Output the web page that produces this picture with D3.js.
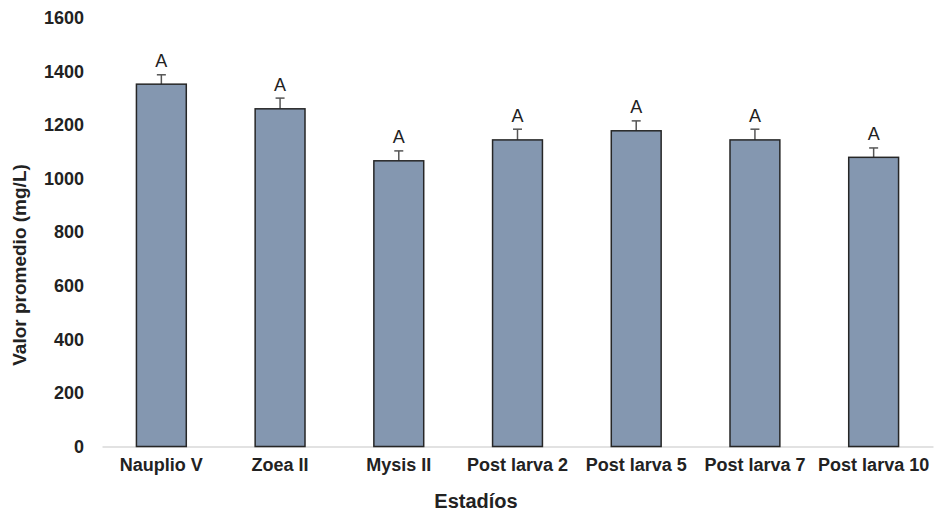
<!DOCTYPE html>
<html><head><meta charset="utf-8">
<script src="https://cdn.jsdelivr.net/npm/d3@7"></script>
<style>body{margin:0;background:#fff}svg{display:block}</style>
</head><body>
<svg id="c" width="934" height="513"></svg>
<script>
const categories = ["Nauplio V","Zoea II","Mysis II","Post larva 2","Post larva 5","Post larva 7","Post larva 10"];
const values = [1352, 1260, 1066, 1144, 1178, 1144, 1079];
const errors = [35, 40, 37, 40, 37, 40, 35];
const letters = ["A","A","A","A","A","A","A"];
const yTicks = [0,200,400,600,800,1000,1200,1400,1600];

const svg = d3.select("#c");
const m = {l:102, r:1, t:17.7, b:66.5};
const W = 934, H = 513;
const x = d3.scaleBand().domain(categories).range([m.l, W-m.r]).paddingInner(0.58).paddingOuter(0.29);
const y = d3.scaleLinear().domain([0,1600]).range([H-m.b, m.t]);
const font = "'Liberation Sans', Arial, sans-serif";

// y axis labels
const ya = svg.append("g").attr("transform",`translate(${m.l},0)`)
  .call(d3.axisLeft(y).tickValues(yTicks).tickSize(0).tickPadding(18).tickFormat(d3.format("d")));
ya.select(".domain").remove();
ya.selectAll("text").attr("font-family",font).attr("font-weight","bold").attr("font-size",18).attr("fill","#222");

// x axis
const xa = svg.append("g").attr("transform",`translate(0,${y(0)})`)
  .call(d3.axisBottom(x).tickSize(0).tickPadding(12));
xa.select(".domain").attr("stroke","#d9d9d9").attr("stroke-width",1.5);
xa.selectAll("text").attr("font-family",font).attr("font-weight","bold").attr("font-size",18).attr("fill","#222");

// error bars
const eg = svg.append("g");
categories.forEach((c,i)=>{
  const cx = x(c)+x.bandwidth()/2;
  eg.append("line").attr("x1",cx).attr("x2",cx).attr("y1",y(values[i])).attr("y2",y(values[i]+errors[i]))
    .attr("stroke","#555").attr("stroke-width",1.5);
  eg.append("line").attr("x1",cx-4.5).attr("x2",cx+4.5).attr("y1",y(values[i]+errors[i])).attr("y2",y(values[i]+errors[i]))
    .attr("stroke","#555").attr("stroke-width",1.5);
  svg.append("text").attr("x",cx).attr("y",y(values[i]+errors[i])-7.5).attr("text-anchor","middle")
    .attr("font-family",font).attr("font-size",18).attr("fill","#222").text(letters[i]);
});

// bars
svg.append("g").selectAll("rect").data(categories).join("rect")
  .attr("x",d=>x(d)).attr("width",x.bandwidth())
  .attr("y",(d,i)=>y(values[i])).attr("height",(d,i)=>y(0)-y(values[i]))
  .attr("fill","#8497b0").attr("stroke","#262626").attr("stroke-width",1.5);

// titles
svg.append("text").attr("x",476).attr("y",508).attr("text-anchor","middle")
  .attr("font-family",font).attr("font-weight","bold").attr("font-size",20).attr("fill","#222").text("Estadíos");
svg.append("text").attr("transform",`translate(26,265) rotate(-90)`).attr("text-anchor","middle")
  .attr("font-family",font).attr("font-weight","bold").attr("font-size",19).attr("fill","#222").text("Valor promedio (mg/L)");
</script>
</body></html>
